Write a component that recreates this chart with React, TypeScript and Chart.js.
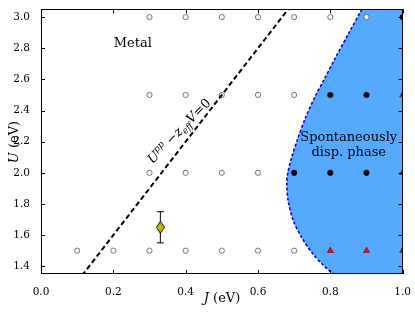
import React, { useEffect, useRef } from "react";
import { Chart, registerables } from "chart.js";

Chart.register(...registerables);

// ---- data ----
// calculations without displacement (open circles)
const openJ = [0.3, 0.4, 0.5, 0.6, 0.7, 0.8, 0.9, 0.3, 0.4, 0.5, 0.6, 0.7, 0.3, 0.4, 0.5, 0.6, 0.1, 0.2, 0.3, 0.4, 0.5, 0.6, 0.7];
const openU = [3.0, 3.0, 3.0, 3.0, 3.0, 3.0, 3.0, 2.5, 2.5, 2.5, 2.5, 2.5, 2.0, 2.0, 2.0, 2.0, 1.5, 1.5, 1.5, 1.5, 1.5, 1.5, 1.5];
// displaced (filled black circles)
const dispJ = [1.0, 0.8, 0.9, 0.7, 0.8, 0.9];
const dispU = [3.0, 2.5, 2.5, 2.0, 2.0, 2.0];
// red triangles
const triJ = [1.0, 1.0, 0.8, 0.9, 1.0];
const triU = [2.5, 2.0, 1.5, 1.5, 1.5];
// estimate with error bar
const estJ = [0.33];
const estU = [1.65];
const estErr = [0.1];
// phase boundary (top to bottom)
const boundaryJ = [0.892, 0.8867, 0.8508, 0.8149, 0.7818, 0.7597, 0.732, 0.7086, 0.6934, 0.6823, 0.6796, 0.6831, 0.697, 0.7202, 0.7478, 0.7798, 0.8058, 0.82];
const boundaryU = [3.08, 3.048, 2.896, 2.742, 2.595, 2.498, 2.357, 2.21, 2.101, 1.998, 1.934, 1.825, 1.696, 1.587, 1.491, 1.408, 1.355, 1.33];
// U - z_eff V = 0 line
const lineJ = [0.1, 0.7];
const lineU = [1.3, 3.1];
// axes
const xMin = 0;
const xMax = 1;
const yMin = 1.35;
const yMax = 3.05;
const xTicks = [0.0, 0.2, 0.4, 0.6, 0.8, 1.0];
const yTicks = [1.4, 1.6, 1.8, 2.0, 2.2, 2.4, 2.6, 2.8, 3.0];
// texts
const metalLabel = "Metal";
const phaseLabel = ["Spontaneously", "disp. phase"];
const metalPos = [0.254, 2.827];
const phasePos = [0.851, 2.227, 2.131];
const mathPos = [0.381, 2.27];

const SERIF = "'DejaVu Serif', serif";

type Run = { t: string; f: string; dy: number };

function drawRuns(ctx: CanvasRenderingContext2D, runs: Run[], x: number, y: number) {
  let w = 0;
  for (const r of runs) {
    ctx.font = r.f;
    w += ctx.measureText(r.t).width;
  }
  let cx = x - w / 2;
  ctx.textAlign = "left";
  ctx.textBaseline = "alphabetic";
  for (const r of runs) {
    ctx.font = r.f;
    ctx.fillText(r.t, cx, y + r.dy);
    cx += ctx.measureText(r.t).width;
  }
}

const decorPlugin = {
  id: "decor",
  afterDatasetsDraw(chart: any) {
    const ctx: CanvasRenderingContext2D = chart.ctx;
    const { left, right, top, bottom } = chart.chartArea;
    const xs = chart.scales.x;
    const ys = chart.scales.y;
    ctx.save();
    ctx.strokeStyle = "#000";
    ctx.lineWidth = 1;
    // ticks (inward, all four sides)
    ctx.beginPath();
    for (const v of xTicks) {
      const px = Math.round(xs.getPixelForValue(v)) + 0.5;
      ctx.moveTo(px, bottom);
      ctx.lineTo(px, bottom - 4);
      ctx.moveTo(px, top);
      ctx.lineTo(px, top + 4);
    }
    for (const v of yTicks) {
      const py = Math.round(ys.getPixelForValue(v)) + 0.5;
      ctx.moveTo(left, py);
      ctx.lineTo(left + 4, py);
      ctx.moveTo(right, py);
      ctx.lineTo(right - 4, py);
    }
    ctx.stroke();
    // frame
    ctx.strokeRect(Math.round(left) + 0.5, Math.round(top) + 0.5, Math.round(right - left) - 1, Math.round(bottom - top) - 1);

    ctx.fillStyle = "#000";
    // region labels
    ctx.font = `13px ${SERIF}`;
    ctx.textAlign = "center";
    ctx.textBaseline = "middle";
    ctx.fillText(metalLabel, xs.getPixelForValue(metalPos[0]), ys.getPixelForValue(metalPos[1]));
    ctx.fillText(phaseLabel[0], xs.getPixelForValue(phasePos[0]), ys.getPixelForValue(phasePos[1]));
    ctx.fillText(phaseLabel[1], xs.getPixelForValue(phasePos[0]), ys.getPixelForValue(phasePos[2]));

    // rotated math label
    ctx.save();
    ctx.translate(xs.getPixelForValue(mathPos[0]), ys.getPixelForValue(mathPos[1]));
    ctx.rotate((-46 * Math.PI) / 180);
    drawRuns(
      ctx,
      [
        { t: "U", f: `italic 13px ${SERIF}`, dy: 0 },
        { t: "pp", f: `italic 9px ${SERIF}`, dy: -5 },
        { t: " \u2212", f: `13px ${SERIF}`, dy: 0 },
        { t: "z", f: `italic 13px ${SERIF}`, dy: 0 },
        { t: "eff", f: `italic 9px ${SERIF}`, dy: 3 },
        { t: "V", f: `italic 13px ${SERIF}`, dy: 0 },
        { t: "=0", f: `13px ${SERIF}`, dy: 0 },
      ],
      0,
      4.5
    );
    ctx.restore();

    // axis titles
    drawRuns(
      ctx,
      [
        { t: "J", f: `italic 13px ${SERIF}`, dy: 0 },
        { t: " (eV)", f: `13px ${SERIF}`, dy: 0 },
      ],
      222,
      302
    );
    ctx.save();
    ctx.translate(13, 142);
    ctx.rotate(-Math.PI / 2);
    drawRuns(
      ctx,
      [
        { t: "U", f: `italic 13px ${SERIF}`, dy: 0 },
        { t: " (eV)", f: `13px ${SERIF}`, dy: 0 },
      ],
      0,
      5
    );
    ctx.restore();
    ctx.restore();
  },
};

export default function App() {
  const ref = useRef<HTMLCanvasElement>(null);
  useEffect(() => {
    const canvas = ref.current;
    if (!canvas) return;
    const diamond = document.createElement("canvas");
    diamond.width = 9;
    diamond.height = 13;
    const dc = diamond.getContext("2d")!;
    dc.beginPath();
    dc.moveTo(4.5, 0.5);
    dc.lineTo(8.5, 6.5);
    dc.lineTo(4.5, 12.5);
    dc.lineTo(0.5, 6.5);
    dc.closePath();
    dc.fillStyle = "#bfbf00";
    dc.fill();
    dc.strokeStyle = "#000";
    dc.lineWidth = 1;
    dc.stroke();

    const pts = (a: number[], b: number[]) => a.map((x, i) => ({ x, y: b[i] }));
    const nB = boundaryJ.length;
    const fillPts = [
      ...pts(boundaryJ, boundaryU),
      { x: xMax + 0.3, y: boundaryU[nB - 1] },
      { x: xMax + 0.3, y: boundaryU[0] },
    ];
    const errPts = [
      { x: estJ[0], y: estU[0] - estErr[0] },
      { x: estJ[0], y: estU[0] + estErr[0] },
    ];

    const chart = new Chart(canvas, {
      type: "scatter",
      data: {
        datasets: [
          { data: pts(estJ, estU), pointStyle: diamond as any, pointRadius: 6, order: 0, clip: 0 } as any,
          {
            data: errPts,
            showLine: true,
            borderColor: "#000",
            borderWidth: 1,
            pointStyle: "line",
            pointRadius: 3.5,
            pointBorderColor: "#000",
            pointBorderWidth: 1,
            order: 1,
            clip: 0,
          },
          {
            data: pts(lineJ, lineU),
            showLine: true,
            borderColor: "#000",
            borderWidth: 2,
            borderDash: [5, 3],
            pointRadius: 0,
            order: 2,
          },
          {
            data: pts(triJ, triU),
            pointStyle: "triangle",
            pointRadius: 3.5,
            backgroundColor: "#ff0000",
            borderColor: "#700000",
            borderWidth: 0.6,
            order: 3,
            clip: 0,
          },
          {
            data: pts(dispJ, dispU),
            pointStyle: "circle",
            pointRadius: 2.8,
            backgroundColor: "#000",
            borderColor: "#000",
            borderWidth: 0.5,
            order: 4,
            clip: 0,
          },
          {
            data: pts(openJ, openU),
            pointStyle: "circle",
            pointRadius: 2.6,
            backgroundColor: "#fff",
            borderColor: "#555",
            borderWidth: 0.8,
            order: 5,
            clip: 0,
          },
          {
            data: pts(boundaryJ, boundaryU),
            showLine: true,
            borderColor: "#0000ff",
            borderWidth: 1.6,
            borderDash: [3, 2],
            pointRadius: 0,
            tension: 0.3,
            order: 6,
          },
          {
            data: fillPts,
            showLine: true,
            borderColor: "rgba(0,0,0,0)",
            borderWidth: 0,
            backgroundColor: "#55aaff",
            fill: "shape",
            pointRadius: 0,
            tension: 0.3,
            order: 7,
          },
        ] as any,
      },
      options: {
        responsive: false,
        animation: false,
        events: [],
        layout: { padding: { left: 0, top: 9, right: 12, bottom: 0 } },
        plugins: { legend: { display: false }, tooltip: { enabled: false } },
        scales: {
          x: {
            type: "linear",
            min: xMin,
            max: xMax,
            grid: { display: false },
            border: { display: false },
            afterBuildTicks: (s: any) => {
              s.ticks = xTicks.map((v) => ({ value: v }));
            },
            afterFit: (s: any) => {
              s.height = 38;
            },
            ticks: {
              color: "#000",
              padding: 4,
              maxRotation: 0,
              autoSkip: false,
              font: { family: SERIF, size: 10.5 },
              callback: (v: any) => Number(v).toFixed(1),
            },
          },
          y: {
            type: "linear",
            min: yMin,
            max: yMax,
            grid: { display: false },
            border: { display: false },
            afterBuildTicks: (s: any) => {
              s.ticks = yTicks.map((v) => ({ value: v }));
            },
            afterFit: (s: any) => {
              s.width = 41;
            },
            ticks: {
              color: "#000",
              padding: 3,
              autoSkip: false,
              font: { family: SERIF, size: 10.5 },
              callback: (v: any) => Number(v).toFixed(1),
            },
          },
        },
      } as any,
      plugins: [decorPlugin],
    });
    return () => chart.destroy();
  }, []);

  return (
    <div style={{ position: "absolute", left: 0, top: 0, width: 415, height: 312, background: "#fff" }}>
      <canvas ref={ref} width={415} height={312} style={{ display: "block" }} />
    </div>
  );
}
